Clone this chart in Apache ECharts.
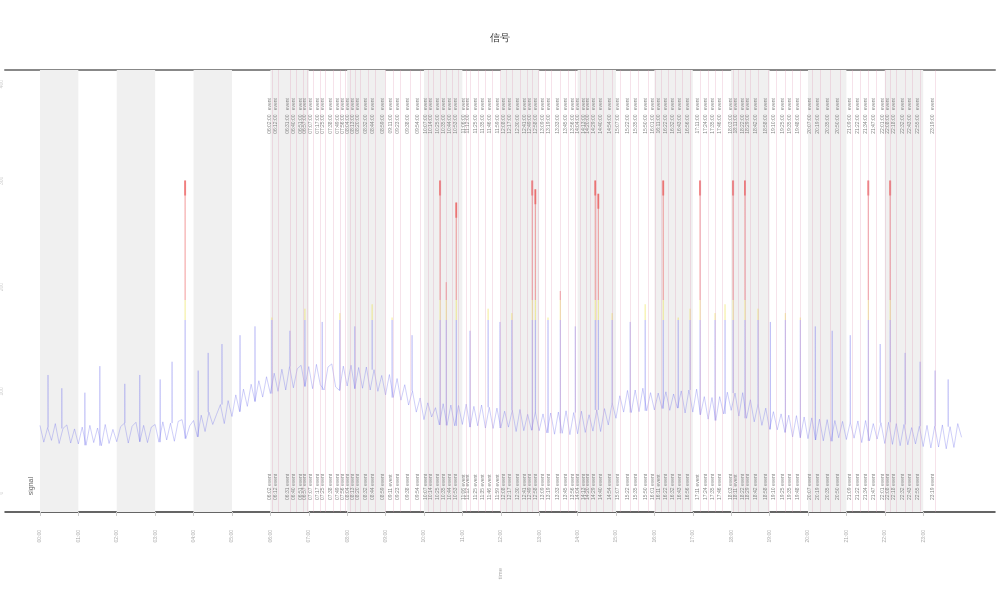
<!DOCTYPE html>
<html><head><meta charset="utf-8">
<script src="https://cdn.jsdelivr.net/npm/echarts@6/dist/echarts.min.js"></script>
<style>html,body{margin:0;padding:0;background:#fff}#c{width:1000px;height:600px}</style>
</head><body><div id="c"></div>
<script>
const tickLabels = ['00:00','01:00','02:00','03:00','04:00','05:00','06:00','07:00','08:00','09:00','10:00','11:00','12:00','13:00','14:00','15:00','16:00','17:00','18:00','19:00','20:00','21:00','22:00','23:00'];
const tickValues = [0,1,2,3,4,5,6,7,8,9,10,11,12,13,14,15,16,17,18,19,20,21,22,23];
const bandStarts = [0,2,4,6,8,10,12,14,16,18,20,22];
// base signal, one value every 0.1 h from 0 to 24
const values = [
19.6,15.8,19.1,16.2,20.0,15.5,18.9,19.7,15.6,18.8,
15.4,19.2,15.1,19.6,15.7,19.0,15.0,19.8,15.5,18.7,
15.9,19.3,20.1,15.6,19.4,20.3,15.9,19.6,15.7,19.2,
19.8,15.8,20.4,16.3,20.1,16.0,20.5,20.9,16.6,19.5,
20.7,17.0,21.9,18.2,22.6,19.8,22.1,24.3,20.0,25.2,
21.6,26.5,22.7,27.8,23.9,28.9,25.0,29.7,26.0,30.6,
26.8,31.4,27.3,32.3,27.6,32.9,28.1,32.4,33.2,28.4,
32.9,27.9,33.4,28.8,27.6,32.8,33.5,28.3,27.5,33.0,
28.5,33.2,27.9,32.7,28.0,32.8,27.6,32.2,27.3,30.9,
26.5,31.1,25.9,30.2,25.3,28.8,24.2,27.4,22.6,25.8,
20.9,24.7,21.5,23.6,19.7,24.5,19.6,24.2,19.5,24.1,
19.8,24.4,19.2,23.9,19.5,24.2,19.0,23.7,18.9,23.5,
19.0,22.8,19.2,23.0,18.2,23.2,18.4,22.1,18.5,22.6,
18.4,22.2,17.9,22.4,17.6,22.6,17.8,22.9,17.5,22.5,
17.7,22.8,18.0,22.0,18.3,23.1,18.2,23.4,19.7,24.7,
21.2,26.3,22.6,27.5,22.5,27.6,22.7,28.0,22.9,27.0,
23.1,26.9,23.4,27.2,23.0,26.7,23.5,27.4,22.4,27.6,
22.6,27.8,22.0,26.1,21.0,25.9,20.7,26.1,22.2,27.1,
23.0,26.9,21.7,27.0,21.2,25.4,20.4,24.4,19.6,23.5,
18.7,22.7,18.6,22.2,18.0,21.9,17.0,21.8,16.8,21.5,
16.6,21.3,16.3,21.0,16.1,20.9,16.0,20.7,16.8,20.5,
16.4,20.3,16.7,20.6,15.7,20.7,16.1,20.0,16.5,20.2,
15.5,20.3,15.3,20.0,15.0,19.8,15.2,19.1,15.4,19.4,
14.8,19.6,14.5,19.4,14.7,19.7,14.3,19.3,14.6,20.0,
16.9
];
// narrow excursions of the signal
const spikeTimes  = [0.21,0.57,1.17,1.56,2.21,2.60,3.13,3.44,3.78,4.12,4.38,4.74,5.21,5.60,
6.04,6.51,6.90,7.35,7.81,8.20,8.65,9.17,9.69,10.42,10.58,10.84,11.20,11.67,11.98,12.29,12.82,12.90,
13.23,13.55,13.94,14.46,14.54,14.90,15.37,15.76,16.23,16.62,16.93,17.19,17.58,17.84,18.05,18.36,
18.70,19.02,19.41,19.80,20.19,20.63,21.10,21.57,21.88,22.14,22.53,22.92,23.31,23.65];
const spikeValues = [31,28,27,33,29,31,30,34,75,32,36,38,40,42,
44,41,46,43,45,42,47,44,40,75,52,70,41,46,43,45,75,73,
44,50,42,75,72,45,43,47,75,44,46,75,45,47,75,75,
46,43,45,44,42,41,40,75,38,75,36,34,32,30];
// event markers
const eventTimes = [6.04,6.20,6.51,6.67,6.85,6.95,7.11,7.29,7.42,7.63,7.81,7.94,8.07,8.21,8.34,8.54,8.73,8.99,
9.19,9.38,9.64,9.90,10.11,10.24,10.42,10.58,10.73,10.89,11.10,11.20,11.41,11.59,11.77,11.98,12.14,12.29,
12.50,12.69,12.82,12.97,13.15,13.31,13.55,13.75,13.94,14.07,14.22,14.33,14.48,14.67,14.90,15.11,15.37,
15.58,15.84,16.02,16.18,16.36,16.54,16.72,16.93,17.19,17.40,17.58,17.76,18.05,18.18,18.36,18.49,18.70,
18.96,19.17,19.41,19.59,19.80,20.11,20.32,20.58,20.84,21.15,21.36,21.57,21.78,22.01,22.14,22.30,22.53,
22.71,22.92,23.31];
const yTickValues = [4.3, 27.3, 50.9, 74.9, 96.8];
const yTickLabels = ['0','100','200','300','400'];

const baseData = values.map((v, i) => [i / 10, v]);
const spikeData = [];
const capData = [];
spikeTimes.forEach((t, i) => {
  const b = values[Math.round(t * 10)];
  const p = spikeValues[i];
  spikeData.push([t, b], [t, p], [t + 0.002, b], [t, null]);
  if (p >= 70) capData.push([t, p], [t, p - 3.4], [t, null]);
});
const eventLines = eventTimes.map(t => ({ xAxis: t }));
const fmtTime = t => {
  const h = Math.floor(t), m = Math.round((t - h) * 60);
  return String(h).padStart(2, '0') + ':' + String(m).padStart(2, '0');
};

const chart = echarts.init(document.getElementById('c'));
chart.setOption({
  animation: false,
  backgroundColor: '#fff',
  title: { text: '信号', left: 'center', top: 28, textStyle: { fontSize: 10, color: '#333', fontWeight: 'normal' } },
  grid: { left: 5, right: 5, top: 70, bottom: 88, outerBoundsMode: 'none', containLabel: false },
  xAxis: [{
    type: 'value', min: -0.91, max: 24.87,
    name: 'time', nameLocation: 'middle', nameGap: 56, nameRotate: 90,
    nameTextStyle: { fontSize: 6, color: '#aaa' },
    axisLine: { lineStyle: { color: '#333', width: 1.5 } },
    axisTick: { show: true, customValues: tickValues, length: 4, lineStyle: { color: '#ccc' } },
    axisLabel: { customValues: tickValues, rotate: 90, fontSize: 5, color: '#aaa', margin: 18,
      formatter: v => tickLabels[Math.round(v)] },
    splitLine: { show: false }
  }, {
    type: 'value', position: 'top', min: -0.91, max: 24.87,
    axisLine: { lineStyle: { color: '#888', width: 2 } },
    axisTick: { show: false }, axisLabel: { show: false }, splitLine: { show: false }
  }],
  yAxis: {
    type: 'value', min: 0, max: 100,
    name: 'value', nameLocation: 'middle', nameGap: 2, nameRotate: 90,
    nameTextStyle: { fontSize: 5, color: '#ccc' },
    axisLine: { show: true, lineStyle: { color: '#eee' } },
    axisTick: { show: false },
    axisLabel: { customValues: yTickValues, rotate: 90, fontSize: 5, color: '#ccc', margin: 1,
      formatter: v => yTickLabels[yTickValues.indexOf(v)] },
    splitLine: { show: false }
  },
  visualMap: {
    type: 'piecewise', show: false, dimension: 1, seriesIndex: [0, 1, 2],
    pieces: [
      { lt: 43.5, color: '#6c6cec' },
      { gte: 43.5, lt: 48, color: '#e8dc30' },
      { gte: 48, color: '#e83a3a' }
    ]
  },
  graphic: [{
    type: 'text', left: 28, top: 477, rotation: Math.PI / 2,
    style: { text: 'signal', fontSize: 7, fill: '#666' }
  }],
  series: [{
    type: 'line', data: baseData, symbol: 'none', z: 3,
    lineStyle: { width: 1, opacity: 0.33 },
    markArea: { silent: true, itemStyle: { color: '#f0f0f0' },
      data: bandStarts.map(s => [{ xAxis: s }, { xAxis: s + 1 }]) }
  }, {
    type: 'line', data: spikeData, symbol: 'none', connectNulls: false, z: 3,
    lineStyle: { width: 1, opacity: 0.28 }
  }, {
    type: 'line', data: capData, symbol: 'none', connectNulls: false, z: 3,
    lineStyle: { width: 2, opacity: 0.5 }
  }, {
    type: 'line', data: [], symbol: 'none',
    markLine: { silent: true, symbol: 'none',
      lineStyle: { color: 'rgba(225,160,185,0.3)', width: 1, type: 'solid' },
      label: { show: true, position: 'insideEndTop', formatter: p => fmtTime(p.value) + ':00   event',
        fontSize: 5, color: '#888', distance: 0, padding: [0, 28, 0, 0] },
      data: eventLines }
  }, {
    type: 'line', data: [], symbol: 'none',
    markLine: { silent: true, symbol: 'none',
      lineStyle: { color: 'rgba(0,0,0,0)', width: 1 },
      label: { show: true, position: 'insideStartTop', formatter: p => fmtTime(p.value) + ' event',
        fontSize: 5, color: '#888', distance: 0, padding: [0, 0, 0, 12] },
      data: eventLines }
  }]
});
</script></body></html>
